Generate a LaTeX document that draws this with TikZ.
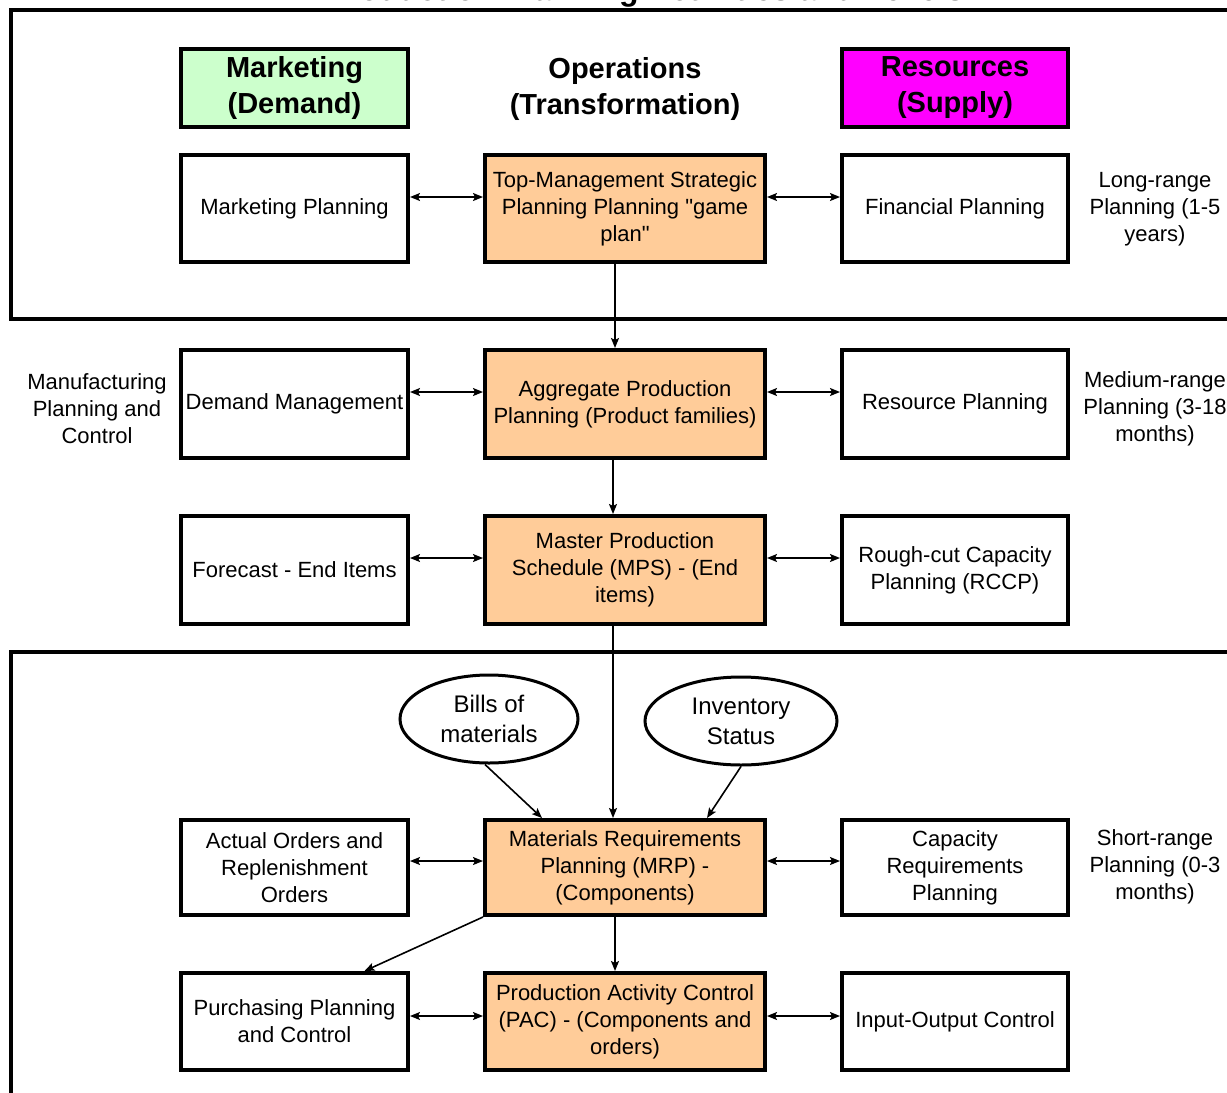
\documentclass[tikz,border=0pt]{standalone}
\usepackage{fontspec}
\setmainfont{Liberation Sans}[Ligatures=TeXOff]
\usetikzlibrary{arrows.meta,shapes.geometric}
\definecolor{orangebox}{HTML}{FFCC99}
\definecolor{greenbox}{HTML}{CCFFCC}
\definecolor{magentabox}{HTML}{FF00FF}
\tikzset{
  box/.style={draw, line width=4, align=center, font=\fontsize{22}{27}\selectfont, inner sep=1},
  lcol/.style={box, minimum width=227, minimum height=107},
  mcol/.style={box, fill=orangebox, minimum width=280, minimum height=107},
  rcol/.style={box, minimum width=226, minimum height=107},
  head/.style={align=center, font=\bfseries\fontsize{29}{36}\selectfont},
  side/.style={align=center, font=\fontsize{22}{27}\selectfont},
  oval/.style={ellipse, draw, line width=3, align=center, font=\fontsize{24}{30}\selectfont, minimum width=178, minimum height=88, inner sep=0},
  frame/.style={line width=4.5},
  arr/.style={line width=1.6, -{Stealth[length=10,width=8,inset=2]}},
  dbl/.style={line width=1.6, {Stealth[length=10,width=8,inset=2]}-{Stealth[length=10,width=8,inset=2]}},
}
\begin{document}
\begin{tikzpicture}[x=1pt,y=-1pt]
\useasboundingbox (0,0) rectangle (1227,1093);
% title (cut by the page top)
\node[anchor=base, font=\bfseries\fontsize{32}{36}\selectfont] (title) at (645,0.3) {Production Planning Activities and Levels};
% frames
\draw[frame] (1240,10) -- (11,10) -- (11,319) -- (1240,319);
\draw[frame] (1240,652) -- (11,652) -- (11,1110);
% headers
\node[box, fill=greenbox, minimum width=227, minimum height=78, head] (hm) at (294.5,88) {Marketing\\(Demand)};
\node[head] (ho) at (625,89) {Operations\\(Transformation)};
\node[box, fill=magentabox, minimum width=226, minimum height=78, head] (hr) at (955,88) {Resources\\(Supply)};
% row 1
\node[lcol] (mp) at (294.5,208.5) {Marketing Planning};
\node[mcol] (tm) at (625,208.5) {Top-Management Strategic\\Planning Planning "game\\plan"};
\node[rcol] (fp) at (955,208.5) {Financial Planning};
\node[side] (lr) at (1155,209) {Long-range\\Planning (1-5\\years)};
% row 2
\node[lcol, minimum height=108] (dm) at (294.5,404) {Demand Management};
\node[mcol, minimum height=108] (ap) at (625,404) {Aggregate Production\\Planning (Product families)};
\node[rcol, minimum height=108] (rp) at (955,404) {Resource Planning};
\node[side] (mr) at (1155,409) {Medium-range\\Planning (3-18\\months)};
\node[side] (mpc) at (97,409) {Manufacturing\\Planning and\\Control};
% row 3
\node[lcol, minimum height=108] (fc) at (294.5,570) {Forecast - End Items};
\node[mcol, minimum height=108] (mps) at (625,570) {Master Production\\Schedule (MPS) - (End\\items)};
\node[rcol, minimum height=108] (rc) at (955,570) {Rough-cut Capacity\\Planning (RCCP)};
% ovals
\node[oval] (bom) at (489,719) {Bills of\\materials};
\node[oval, minimum width=192] (inv) at (741,721) {Inventory\\Status};
% row 4
\node[lcol, minimum height=95] (ao) at (294.5,867.5) {Actual Orders and\\Replenishment\\Orders};
\node[mcol, minimum height=95] (mrp) at (625,867.5) {Materials Requirements\\Planning (MRP) -\\(Components)};
\node[rcol, minimum height=95] (crp) at (955,867.5) {Capacity\\Requirements\\Planning};
\node[side] (sr) at (1155,867) {Short-range\\Planning (0-3\\months)};
% row 5
\node[lcol, minimum height=97] (pur) at (294.5,1021.5) {Purchasing Planning\\and Control};
\node[mcol, minimum height=97] (pac) at (625,1021.5) {Production Activity Control\\(PAC) - (Components and\\orders)};
\node[rcol, minimum height=97] (ioc) at (955,1021.5) {Input-Output Control};
% horizontal double arrows
\draw[dbl] ([yshift=11.5]mp.east) -- ([yshift=11.5]tm.west);
\draw[dbl] ([yshift=11.5]tm.east) -- ([yshift=11.5]fp.west);
\draw[dbl] ([yshift=12]dm.east) -- ([yshift=12]ap.west);
\draw[dbl] ([yshift=12]ap.east) -- ([yshift=12]rp.west);
\draw[dbl] ([yshift=12]fc.east) -- ([yshift=12]mps.west);
\draw[dbl] ([yshift=12]mps.east) -- ([yshift=12]rc.west);
\draw[dbl] ([yshift=6.5]ao.east) -- ([yshift=6.5]mrp.west);
\draw[dbl] ([yshift=6.5]mrp.east) -- ([yshift=6.5]crp.west);
\draw[dbl] ([yshift=5.5]pur.east) -- ([yshift=5.5]pac.west);
\draw[dbl] ([yshift=5.5]pac.east) -- ([yshift=5.5]ioc.west);
% vertical arrows
\draw[arr] ([xshift=-10]tm.south) -- ([xshift=-10]ap.north);
\draw[arr] ([xshift=-12]ap.south) -- ([xshift=-12]mps.north);
\draw[arr] ([xshift=-12]mps.south) -- ([xshift=-12]mrp.north);
\draw[arr] ([xshift=-10]mrp.south) -- ([xshift=-10]pac.north);
% oval arrows
\draw[arr] ([xshift=-4]bom.south) -- ([xshift=-83]mrp.north);
\draw[arr] (inv.south) -- ([xshift=82]mrp.north);
\draw[arr] (mrp.south west) -- ([xshift=70]pur.north);
\end{tikzpicture}
\end{document}
